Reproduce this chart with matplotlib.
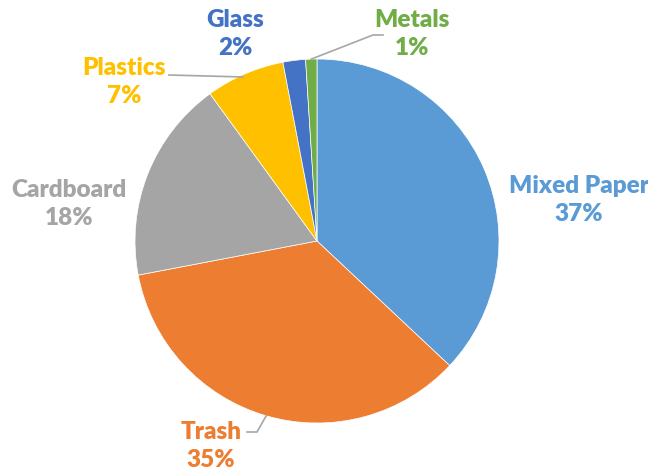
import matplotlib.pyplot as plt
import numpy as np

# data
labels = ["Mixed Paper", "Trash", "Cardboard", "Plastics", "Glass", "Metals"]
values = [37, 35, 18, 7, 2, 1]
colors = ["#5B9BD5", "#ED7D31", "#A5A5A5", "#FFC000", "#4472C4", "#70AD47"]

# label positions in pixel coords (x, y from top)
label_pos = [(579, 200), (211, 446), (69, 204), (124, 82), (235, 34), (412, 34)]
has_leader = [False, True, False, True, False, True]

W, H = 648, 472
cx, cy, R = 317, 241, 182

fig = plt.figure(figsize=(6.48, 4.72), dpi=100)
ax = fig.add_axes([0, 0, 1, 1])

wedges, _ = ax.pie(values, colors=colors, startangle=90, counterclock=False,
                   center=(cx, H - cy), radius=R, frame=True,
                   wedgeprops=dict(edgecolor="white", linewidth=0.5))
ax.set_xlim(0, W)
ax.set_ylim(0, H)
ax.set_aspect("equal")
ax.axis("off")

for i, w in enumerate(wedges):
    lx, ly = label_pos[i]
    ax.text(lx, H - ly, "%s\n%d%%" % (labels[i], values[i]), color=colors[i],
            ha="center", va="center", fontsize=17.5, fontweight="heavy",
            family="Lato", linespacing=1.38)
    if has_leader[i]:
        ang = np.deg2rad((w.theta1 + w.theta2) / 2)
        px = cx + R * np.cos(ang)
        py = H - cy + R * np.sin(ang)
        if labels[i] == "Plastics":
            xs = [169, px - 2]
            ys = [H - 75, py - 3]
        elif labels[i] == "Metals":
            xs = [px, 373, 383]
            ys = [py, H - 35, H - 35]
        else:
            xs = [247, 257, px]
            ys = [H - 432, H - 432, py]
        ax.plot(xs, ys, color="#A6A6A6", lw=1.2)

fig.savefig("out.png", dpi=100)
